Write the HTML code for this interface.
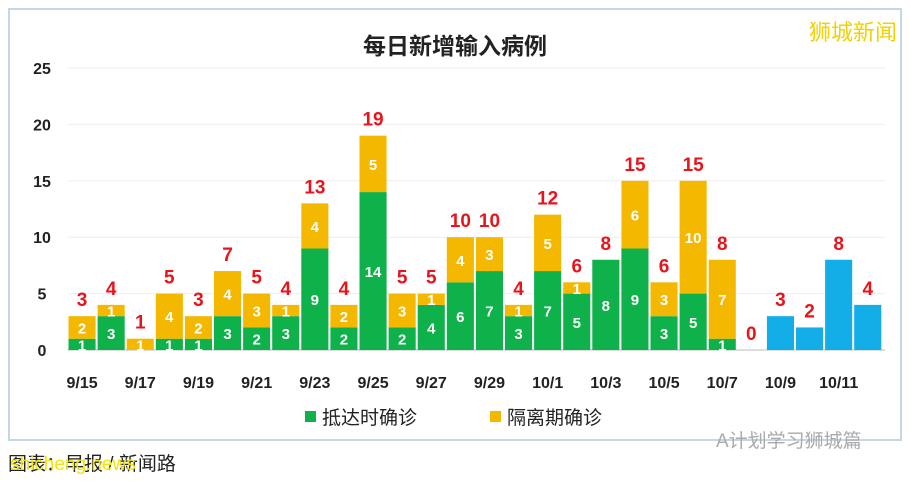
<!DOCTYPE html>
<html><head><meta charset="utf-8"><style>
body{margin:0;width:910px;height:481px;background:#fff;overflow:hidden;font-family:"Liberation Sans","Noto Sans CJK SC",sans-serif}
#frame{position:absolute;left:8px;top:8px;width:894px;height:433px;border:2px solid #c5d7e3;box-sizing:border-box}
</style></head><body>
<div id="frame"></div>
<svg id="c" width="910" height="481" style="position:absolute;left:0;top:0"></svg>
<script>
const dates=["9/15","9/16","9/17","9/18","9/19","9/20","9/21","9/22","9/23","9/24","9/25","9/26","9/27","9/28","9/29","9/30","10/1","10/2","10/3","10/4","10/5","10/6","10/7","10/8","10/9","10/10","10/11","10/12"];
const arrival=[1,3,0,1,1,3,2,3,9,2,14,2,4,6,7,3,7,5,8,9,3,5,1,0,0,0,0,0];
const quarantine=[2,1,1,4,2,4,3,1,4,2,5,3,1,4,3,1,5,1,0,6,3,10,7,0,0,0,0,0];
const pending=[0,0,0,0,0,0,0,0,0,0,0,0,0,0,0,0,0,0,0,0,0,0,0,0,3,2,8,4];
const yTicks=[0,5,10,15,20,25];
const NS="http://www.w3.org/2000/svg";
const svg=document.getElementById('c');
const x0=67.5,bw=29.1,y0=350,yTop=68,yMax=25;
const X=i=>x0+i*bw;
const Y=v=>y0-(v/yMax)*(y0-yTop);
function el(t,a,p){const e=document.createElementNS(NS,t);for(const k in a)e.setAttribute(k,a[k]);(p||svg).appendChild(e);return e;}
function txt(x,y,s,a){const e=el('text',Object.assign({x:x,y:y,'text-anchor':'middle'},a));e.textContent=s;return e;}
let t=txt(455,54,'每日新增输入病例',{'font-size':23,'font-weight':'bold',fill:'#222'});


t=txt(853,40,'狮城新闻',{'font-size':22,fill:'#f2d100'});


yTicks.forEach(v=>{
 const g=el('line',{x1:x0,x2:885,y1:Y(v),y2:Y(v),stroke:'#eee'});
 
 
 const l=txt(42,Y(v)+6,String(v),{'font-size':16,fill:'#222','font-weight':'bold'});
 
 
});
const ax=el('line',{x1:x0,x2:885,y1:y0,y2:y0,stroke:'#bbb'});


dates.forEach((d,i)=>{
 const bx=X(i)+1,w=bw-2;
 const a=arrival[i],q=quarantine[i],p=pending[i];
 if(a>0){const r=el('rect',{x:bx,y:Y(a),width:w,height:Y(0)-Y(a),fill:'#0fb14b'});
  
  const l=txt(bx+w/2,(Y(0)+Y(a))/2+6,String(a),{'font-size':15,'font-weight':'bold',fill:'#fff'});
  }
 if(q>0){const r=el('rect',{x:bx,y:Y(a+q),width:w,height:Y(a)-Y(a+q),fill:'#f5b800'});
  
  const l=txt(bx+w/2,(Y(a)+Y(a+q))/2+6,String(q),{'font-size':15,'font-weight':'bold',fill:'#fff'});
  }
 if(p>0){const r=el('rect',{x:bx,y:Y(p),width:w,height:Y(0)-Y(p),fill:'#13aee8'});
  }
 const tot=a+q+p;
 const l=txt(bx+w/2,Y(tot)-10,String(tot),{'font-size':19,'font-weight':'bold',fill:'#e8141b'});
 
 if(i%2===0){const tl=txt(X(i)+bw/2,388,d,{'font-size':16,'font-weight':'bold',fill:'#222'});
  }
});
[[305,'#0fb14b','抵达时确诊'],[490,'#f5b800','隔离期确诊']].forEach(([x,c,s])=>{
 const r=el('rect',{x:x,y:411,width:11,height:11,fill:c});
 
 const l=el('text',{x:x+17,y:424,'font-size':19,fill:'#222'});l.textContent=s;
 
});
t=el('text',{x:716,y:447,'font-size':19,fill:'#aaa'});t.textContent='A计划学习狮城篇';

t=el('text',{x:8,y:470,'font-size':19,fill:'#222'});t.textContent='图表：早报 / 新闻路';

t=el('text',{x:10,y:470,'font-size':19,fill:'#f2e600'});t.textContent='shicheng.news';

</script>
</body></html>
